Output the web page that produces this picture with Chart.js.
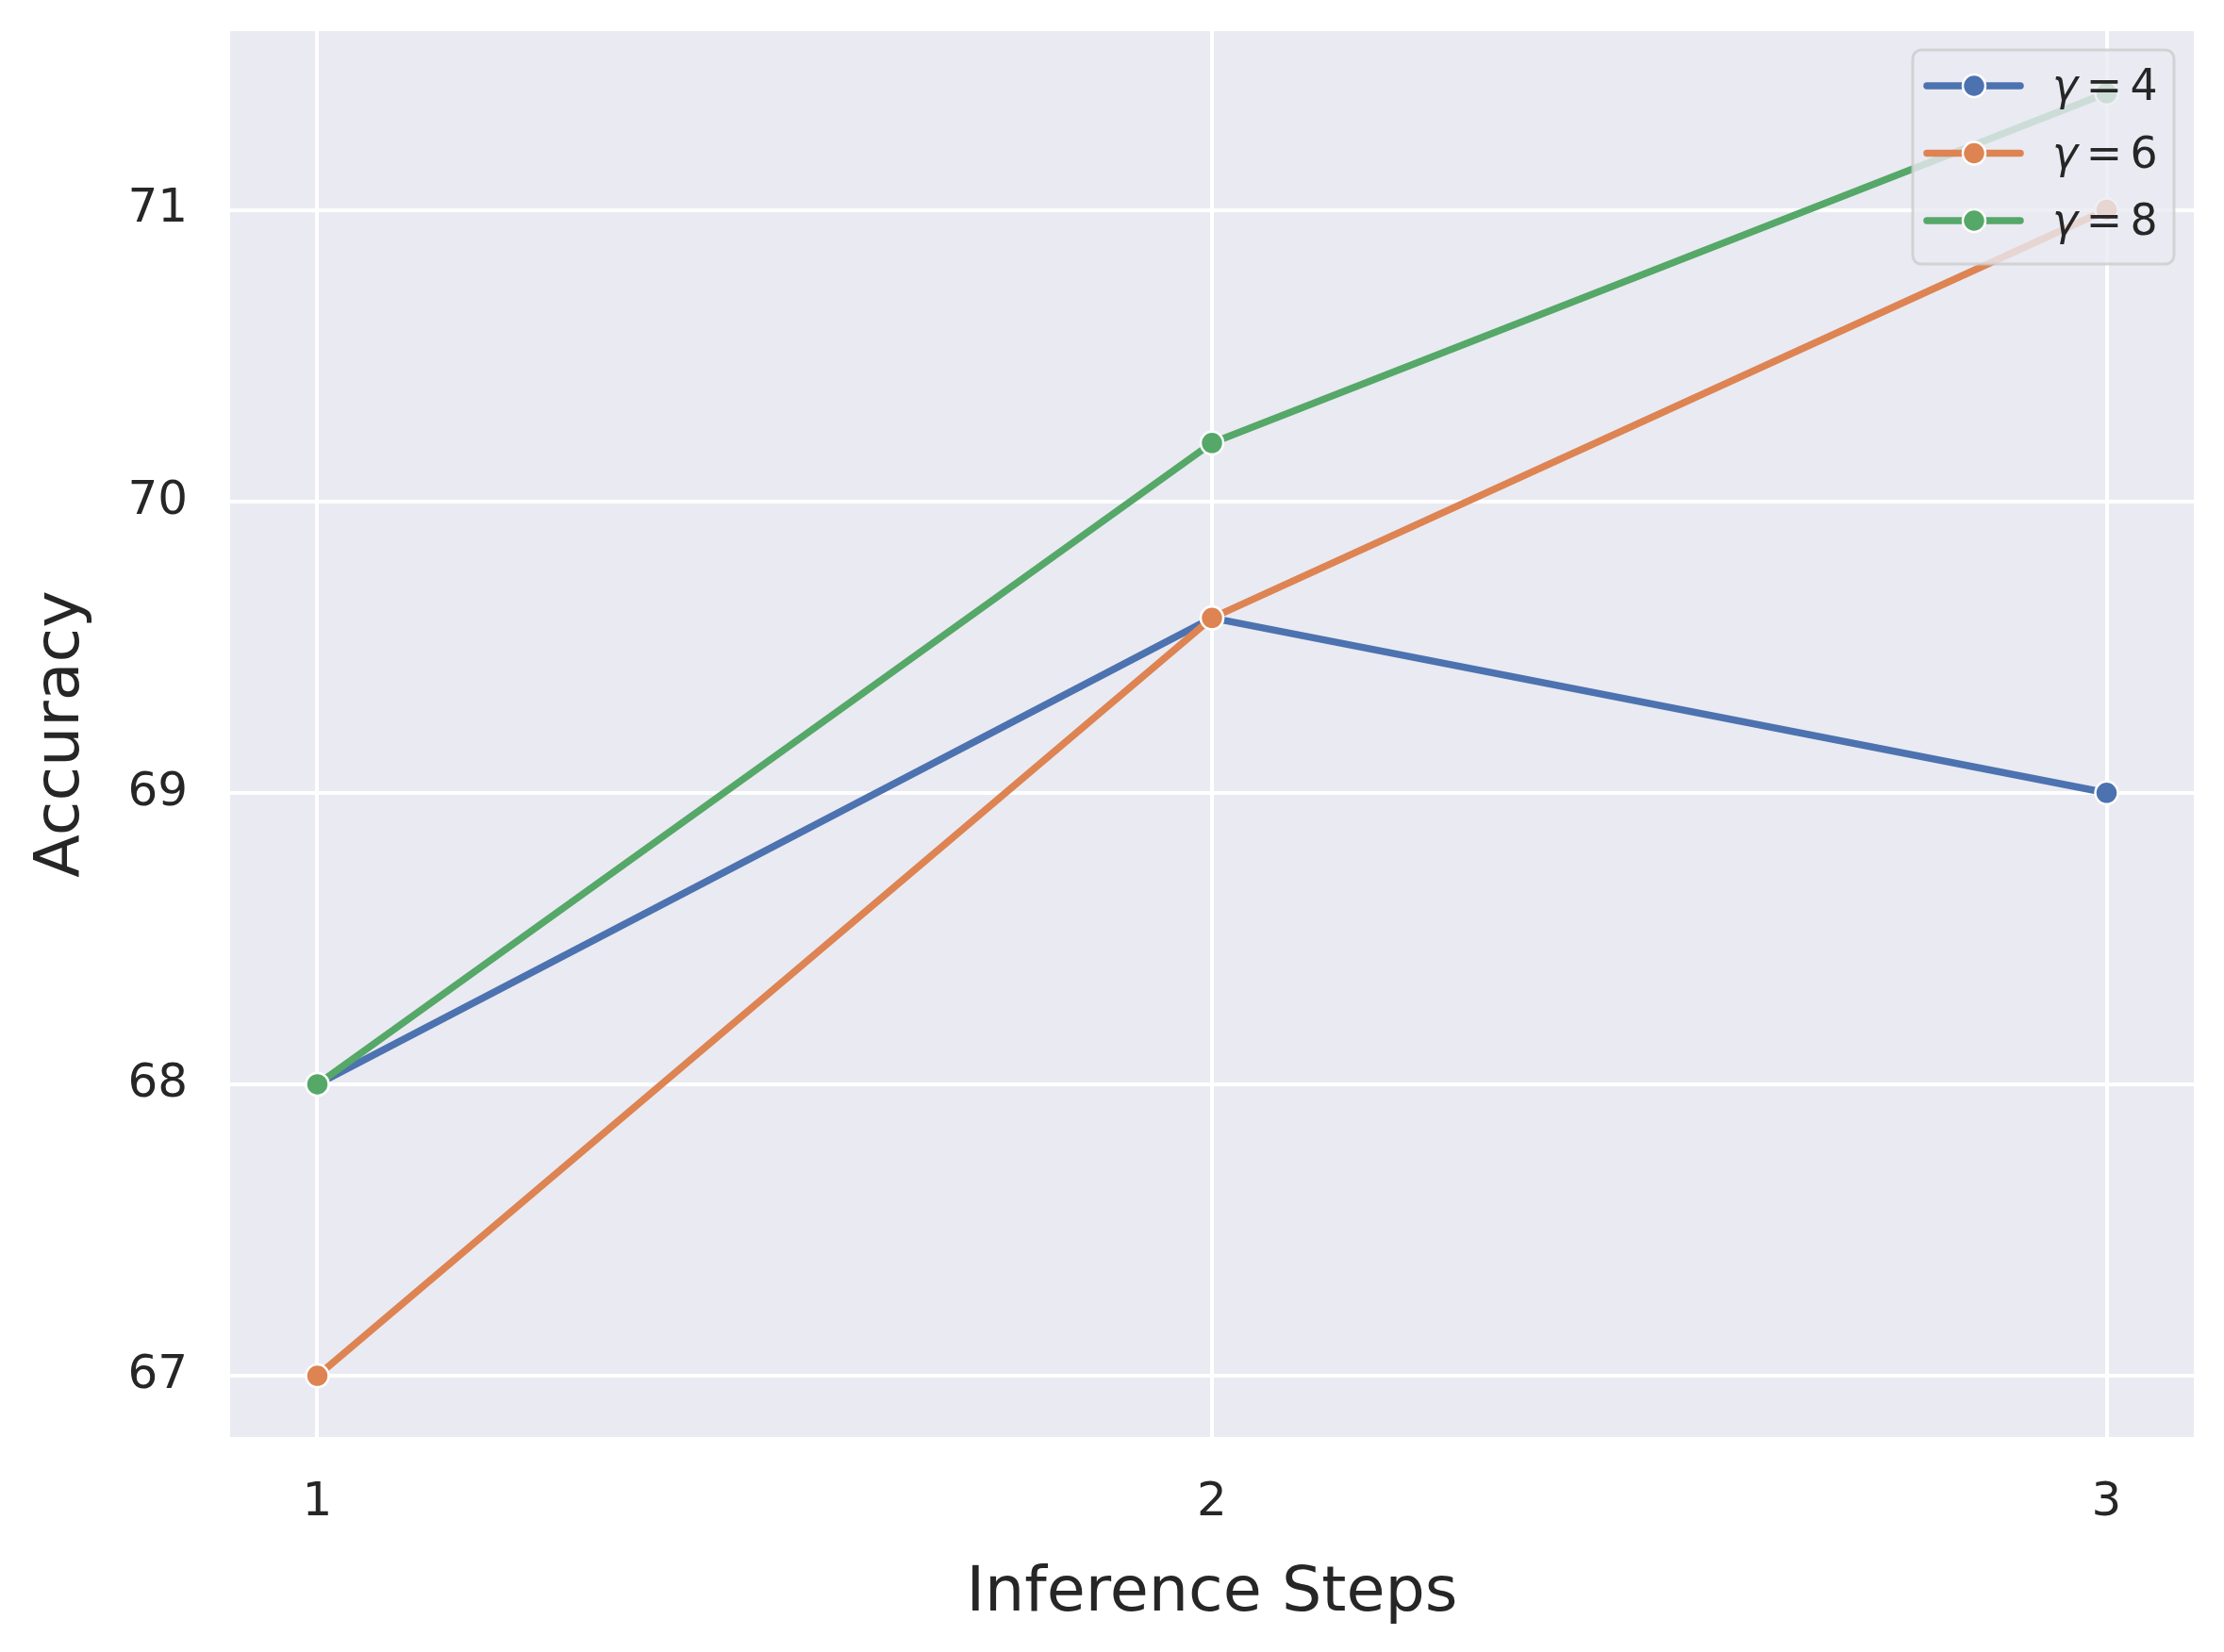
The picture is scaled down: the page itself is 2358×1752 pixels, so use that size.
<!DOCTYPE html>
<html><head><meta charset="utf-8">
<script src="https://cdn.jsdelivr.net/npm/chart.js@4"></script>
<style>html,body{margin:0;padding:0;background:#fff;overflow:hidden;}</style>
</head><body>
<canvas id="c" width="2358" height="1752" style="display:block;width:2358px;height:1752px"></canvas>
<script>
// ---- data ----
const steps = [1, 2, 3];
const gammas = [4, 6, 8];
const accGamma4 = [68.0, 69.6, 69.0];
const accGamma6 = [67.0, 69.6, 71.0];
const accGamma8 = [68.0, 70.2, 71.4];
const xTicks = [1, 2, 3];
const yTicks = [67, 68, 69, 70, 71];
const xLabel = 'Inference Steps';
const yLabel = 'Accuracy';
const seriesColors = ['#4C72B0', '#DD8452', '#55A868'];

const seriesValues = [accGamma4, accGamma6, accGamma8];
const FONT = "'DejaVu Sans', 'Liberation Sans', sans-serif";
const TEXT = '#262626';

const datasets = seriesValues.map((vals, i) => ({
  label: 'γ = ' + gammas[i],
  gamma: gammas[i],
  data: steps.map((s, j) => ({x: s, y: vals[j]})),
  borderColor: seriesColors[i],
  backgroundColor: seriesColors[i],
  borderWidth: 7.5,
  borderCapStyle: 'round',
  borderJoinStyle: 'round',
  pointRadius: 12,
  pointHoverRadius: 12,
  pointBorderWidth: 2.5,
  pointBorderColor: '#ffffff',
  pointBackgroundColor: seriesColors[i],
  tension: 0,
  fill: false,
  order: 3 - i
}));

const bgPlugin = {
  id: 'bg',
  beforeDraw(chart) {
    const {ctx, chartArea: a} = chart;
    ctx.save();
    ctx.fillStyle = '#ffffff';
    ctx.fillRect(0, 0, chart.width, chart.height);
    ctx.fillStyle = '#EAEAF2';
    ctx.fillRect(a.left, a.top, a.right - a.left, a.bottom - a.top);
    ctx.restore();
  }
};

function roundRect(ctx, x, y, w, h, r) {
  ctx.beginPath();
  ctx.moveTo(x + r, y);
  ctx.lineTo(x + w - r, y);
  ctx.arcTo(x + w, y, x + w, y + r, r);
  ctx.lineTo(x + w, y + h - r);
  ctx.arcTo(x + w, y + h, x + w - r, y + h, r);
  ctx.lineTo(x + r, y + h);
  ctx.arcTo(x, y + h, x, y + h - r, r);
  ctx.lineTo(x, y + r);
  ctx.arcTo(x, y, x + r, y, r);
  ctx.closePath();
}

const legendPlugin = {
  id: 'mplLegend',
  afterDatasetsDraw(chart) {
    const ctx = chart.ctx;
    const bx = 2028, by = 53, bw = 277, bh = 227;
    ctx.save();
    roundRect(ctx, bx, by, bw, bh, 9);
    ctx.fillStyle = 'rgba(234,234,242,0.8)';
    ctx.fill();
    ctx.lineWidth = 3;
    ctx.strokeStyle = 'rgba(204,204,204,0.8)';
    ctx.stroke();
    chart.data.datasets.forEach((ds, i) => {
      const y = 91 + i * 71.5;
      ctx.beginPath();
      ctx.moveTo(2043, y);
      ctx.lineTo(2142, y);
      ctx.lineWidth = 7.5;
      ctx.lineCap = 'round';
      ctx.strokeStyle = ds.borderColor;
      ctx.stroke();
      ctx.beginPath();
      ctx.arc(2093, y, 12, 0, Math.PI * 2);
      ctx.fillStyle = ds.borderColor;
      ctx.fill();
      ctx.lineWidth = 2.5;
      ctx.strokeStyle = '#ffffff';
      ctx.stroke();
      ctx.fillStyle = TEXT;
      ctx.textBaseline = 'alphabetic';
      const base = y + 15;
      ctx.font = 'italic 45.8px ' + FONT;
      ctx.textAlign = 'left';
      ctx.fillText('γ', 2176, base);
      ctx.font = '45.8px ' + FONT;
      ctx.textAlign = 'center';
      ctx.fillText('=', 2231, base);
      ctx.fillText(String(ds.gamma), 2273, base);
    });
    ctx.restore();
  }
};

new Chart(document.getElementById('c'), {
  type: 'line',
  data: {datasets},
  options: {
    responsive: false,
    animation: false,
    devicePixelRatio: 1,
    layout: {padding: {left: 0, right: 32, top: 33, bottom: 0}},
    plugins: {legend: {display: false}, tooltip: {enabled: false}},
    scales: {
      x: {
        type: 'linear',
        min: 0.9025,
        max: 3.0975,
        afterBuildTicks: s => { s.ticks = xTicks.map(v => ({value: v})); },
        afterFit: s => { s.height = 228; s.paddingLeft = 0; s.paddingRight = 0; },
        grid: {color: '#ffffff', lineWidth: 4, drawTicks: false},
        border: {display: false},
        ticks: {padding: 40, color: TEXT, maxRotation: 0, font: {family: FONT, size: 50}, callback: v => String(v)},
        title: {display: true, text: xLabel, color: TEXT, font: {family: FONT, size: 66.7}, padding: {top: 0, bottom: 21}}
      },
      y: {
        type: 'linear',
        min: 66.79,
        max: 71.613,
        afterBuildTicks: s => { s.ticks = yTicks.map(v => ({value: v})); },
        afterFit: s => { s.width = 244; s.paddingTop = 0; s.paddingBottom = 0; },
        grid: {color: '#ffffff', lineWidth: 4, drawTicks: false},
        border: {display: false},
        ticks: {padding: 45, color: TEXT, font: {family: FONT, size: 50}, callback: v => String(v)},
        title: {display: true, text: yLabel, color: TEXT, font: {family: FONT, size: 66.7}, padding: {top: 26, bottom: 0}}
      }
    }
  },
  plugins: [bgPlugin, legendPlugin]
});
</script>
</body></html>
